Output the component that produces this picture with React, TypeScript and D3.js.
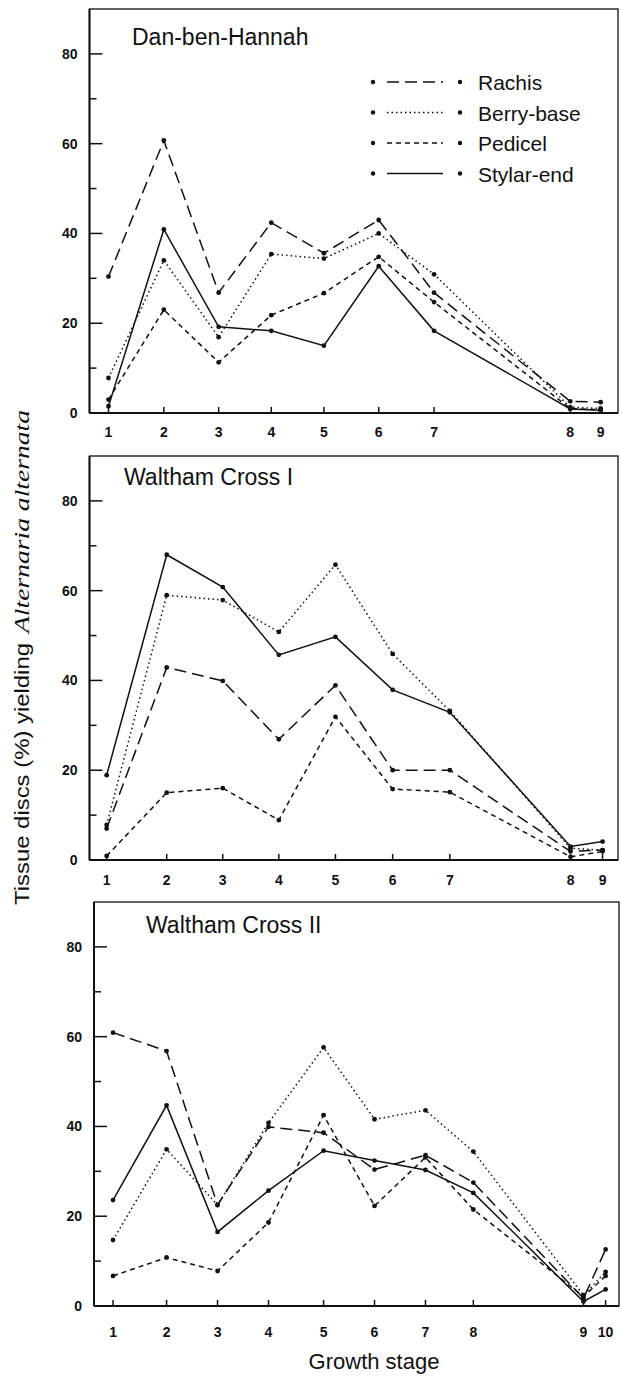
import React, { useEffect, useRef } from "react";
import * as d3 from "d3";

// series order: Rachis, Berry-base, Pedicel, Stylar-end
const seriesNames = ["Rachis", "Berry-base", "Pedicel", "Stylar-end"];
const seriesDash = ["12,6", "1.5,3", "5,4", "none"];

// Dan-ben-Hannah
const dbhStages = [1, 2, 3, 4, 5, 6, 7, 8, 9];
const dbhStagePos = [1, 2.02, 3.03, 4, 4.97, 5.98, 7, 9.51, 10.07];
const dbhRachis = [30.4, 60.7, 26.8, 42.4, 35.6, 43, 26.8, 2.6, 2.4];
const dbhBerry = [7.8, 34, 16.9, 35.4, 34.4, 40, 30.9, 1.3, 1];
const dbhPedicel = [3, 23, 11.3, 21.8, 26.7, 34.8, 24.7, 1, 0.7];
const dbhStylar = [1.5, 40.9, 19.2, 18.3, 15, 32.7, 18.3, 0.9, 0.6];

// Waltham Cross I
const wc1Stages = [1, 2, 3, 4, 5, 6, 7, 8, 9];
const wc1StagePos = [1, 2.05, 3.03, 4.01, 5, 6, 7, 9.11, 9.67];
const wc1Rachis = [7, 42.9, 39.9, 26.9, 38.9, 20, 20, 1.9, 2.2];
const wc1Berry = [7.8, 59, 57.9, 50.8, 65.8, 45.9, 33.2, 2.6, 2.2];
const wc1Pedicel = [0.9, 15, 16, 8.9, 31.9, 15.8, 15.1, 0.7, 1.9];
const wc1Stylar = [18.9, 68, 60.8, 45.7, 49.7, 37.9, 32.9, 3, 4.1];

// Waltham Cross II
const wc2Stages = [1, 2, 3, 4, 5, 6, 7, 8, 9, 10];
const wc2StagePos = [1, 2.04, 3.03, 4.02, 5.09, 6.08, 7.07, 8, 10.14, 10.57];
const wc2Rachis = [60.9, 56.8, 22.5, 39.9, 38.6, 30.4, 33.6, 27.5, 1.7, 12.6];
const wc2Berry = [14.7, 34.9, 22.5, 40.8, 57.6, 41.6, 43.6, 34.4, 2.4, 7.6];
const wc2Pedicel = [6.7, 10.8, 7.8, 18.6, 42.5, 22.3, 33.1, 21.5, 2.1, 6.7];
const wc2Stylar = [23.6, 44.7, 16.5, 25.7, 34.6, 32.4, 30.3, 25.2, 1, 3.7];

const yTicks = [0, 10, 20, 30, 40, 50, 60, 70, 80];

const panels = [
  {
    title: "Dan-ben-Hannah",
    stages: dbhStages,
    pos: dbhStagePos,
    series: [dbhRachis, dbhBerry, dbhPedicel, dbhStylar],
    box: { left: 89.5, right: 618, top: 9, bottom: 413 },
    xDomain: [0.65, 10.39],
    titleX: 132,
    titleY: 45,
    labelDy: 24,
    legend: true,
  },
  {
    title: "Waltham Cross I",
    stages: wc1Stages,
    pos: wc1StagePos,
    series: [wc1Rachis, wc1Berry, wc1Pedicel, wc1Stylar],
    box: { left: 89.5, right: 618, top: 456, bottom: 860 },
    xDomain: [0.7, 9.94],
    titleX: 124,
    titleY: 485,
    labelDy: 25,
    legend: false,
  },
  {
    title: "Waltham Cross II",
    stages: wc2Stages,
    pos: wc2StagePos,
    series: [wc2Rachis, wc2Berry, wc2Pedicel, wc2Stylar],
    box: { left: 94, right: 619, top: 902, bottom: 1306 },
    xDomain: [0.63, 10.83],
    titleX: 146,
    titleY: 933,
    labelDy: 31,
    legend: false,
  },
];

const sans = "'Liberation Sans', Arial, Helvetica, sans-serif";

export default function App() {
  const ref = useRef<SVGSVGElement | null>(null);

  useEffect(() => {
    document.body.style.margin = "0";
    const svg = d3.select(ref.current);
    svg.selectAll("*").remove();

    panels.forEach((p) => {
      const { left, right, top, bottom } = p.box;
      const x = d3.scaleLinear().domain(p.xDomain).range([left, right]);
      const y = d3.scaleLinear().domain([0, 90]).range([bottom, top]);
      const g = svg.append("g");

      // frame
      g.append("rect")
        .attr("x", left)
        .attr("y", top)
        .attr("width", right - left)
        .attr("height", bottom - top)
        .attr("fill", "none")
        .attr("stroke", "#111")
        .attr("stroke-width", 1.3);
      g.append("line")
        .attr("x1", left).attr("x2", right)
        .attr("y1", bottom).attr("y2", bottom)
        .attr("stroke", "#111").attr("stroke-width", 2);
      g.append("line")
        .attr("x1", left).attr("x2", left)
        .attr("y1", top).attr("y2", bottom)
        .attr("stroke", "#111").attr("stroke-width", 2);

      // y ticks
      yTicks.forEach((t) => {
        const major = t % 20 === 0;
        if (t > 0) {
          g.append("line")
            .attr("x1", left).attr("x2", left + (major ? 13 : 7))
            .attr("y1", y(t)).attr("y2", y(t))
            .attr("stroke", "#111").attr("stroke-width", 1.5);
        }
        if (major) {
          g.append("text")
            .attr("x", left - 12)
            .attr("y", y(t) + 5)
            .attr("text-anchor", "end")
            .attr("font-family", sans)
            .attr("font-weight", "bold")
            .attr("font-size", 14)
            .attr("fill", "#111")
            .text(t);
        }
      });

      // x ticks
      p.stages.forEach((s, i) => {
        const xp = x(p.pos[i]);
        g.append("line")
          .attr("x1", xp).attr("x2", xp)
          .attr("y1", bottom).attr("y2", bottom - 6)
          .attr("stroke", "#111").attr("stroke-width", 1.5);
        g.append("text")
          .attr("x", xp)
          .attr("y", bottom + p.labelDy)
          .attr("text-anchor", "middle")
          .attr("font-family", sans)
          .attr("font-weight", "bold")
          .attr("font-size", 14)
          .attr("fill", "#111")
          .text(s);
      });

      // series
      p.series.forEach((vals, si) => {
        const pts: [number, number][] = vals.map((v, i) => [x(p.pos[i]), y(v)]);
        g.append("path")
          .attr("d", d3.line()(pts))
          .attr("fill", "none")
          .attr("stroke", "#111")
          .attr("stroke-width", 1.5)
          .attr("stroke-dasharray", seriesDash[si]);
        g.selectAll(null)
          .data(pts)
          .enter()
          .append("circle")
          .attr("cx", (d) => d[0])
          .attr("cy", (d) => d[1])
          .attr("r", 2.4)
          .attr("fill", "#111");
      });

      // title
      g.append("text")
        .attr("x", p.titleX)
        .attr("y", p.titleY)
        .attr("font-family", sans)
        .attr("font-size", 23)
        .attr("fill", "#111")
        .text(p.title);

      if (p.legend) {
        seriesNames.forEach((name, si) => {
          const ly = 82 + si * 30.5;
          g.append("circle").attr("cx", 373).attr("cy", ly).attr("r", 2.2).attr("fill", "#111");
          g.append("circle").attr("cx", 460).attr("cy", ly).attr("r", 2.2).attr("fill", "#111");
          g.append("line")
            .attr("x1", 387).attr("x2", 443)
            .attr("y1", ly).attr("y2", ly)
            .attr("stroke", "#111")
            .attr("stroke-width", 1.5)
            .attr("stroke-dasharray", seriesDash[si]);
          g.append("text")
            .attr("x", 478)
            .attr("y", ly + 8)
            .attr("font-family", sans)
            .attr("font-size", 21)
            .attr("fill", "#111")
            .text(name);
        });
      }
    });

    // axis titles
    const yt = svg.append("g").attr("transform", "translate(29,657) rotate(-90)");
    yt.append("text")
      .attr("x", -248)
      .attr("y", 0)
      .attr("font-family", sans)
      .attr("font-size", 20)
      .attr("textLength", 262)
      .attr("lengthAdjust", "spacingAndGlyphs")
      .attr("fill", "#111")
      .text("Tissue discs (%) yielding");
    yt.append("text")
      .attr("x", 24)
      .attr("y", 0)
      .attr("font-family", "'Liberation Serif', 'Times New Roman', serif")
      .attr("font-style", "italic")
      .attr("font-size", 21)
      .attr("textLength", 223)
      .attr("lengthAdjust", "spacingAndGlyphs")
      .attr("fill", "#111")
      .text("Alternaria alternata");

    svg.append("text")
      .attr("x", 374)
      .attr("y", 1369)
      .attr("text-anchor", "middle")
      .attr("font-family", sans)
      .attr("font-size", 22)
      .attr("fill", "#111")
      .text("Growth stage");
  }, []);

  return <svg ref={ref} width={622} height={1378} style={{ display: "block", background: "#fff" }} />;
}
